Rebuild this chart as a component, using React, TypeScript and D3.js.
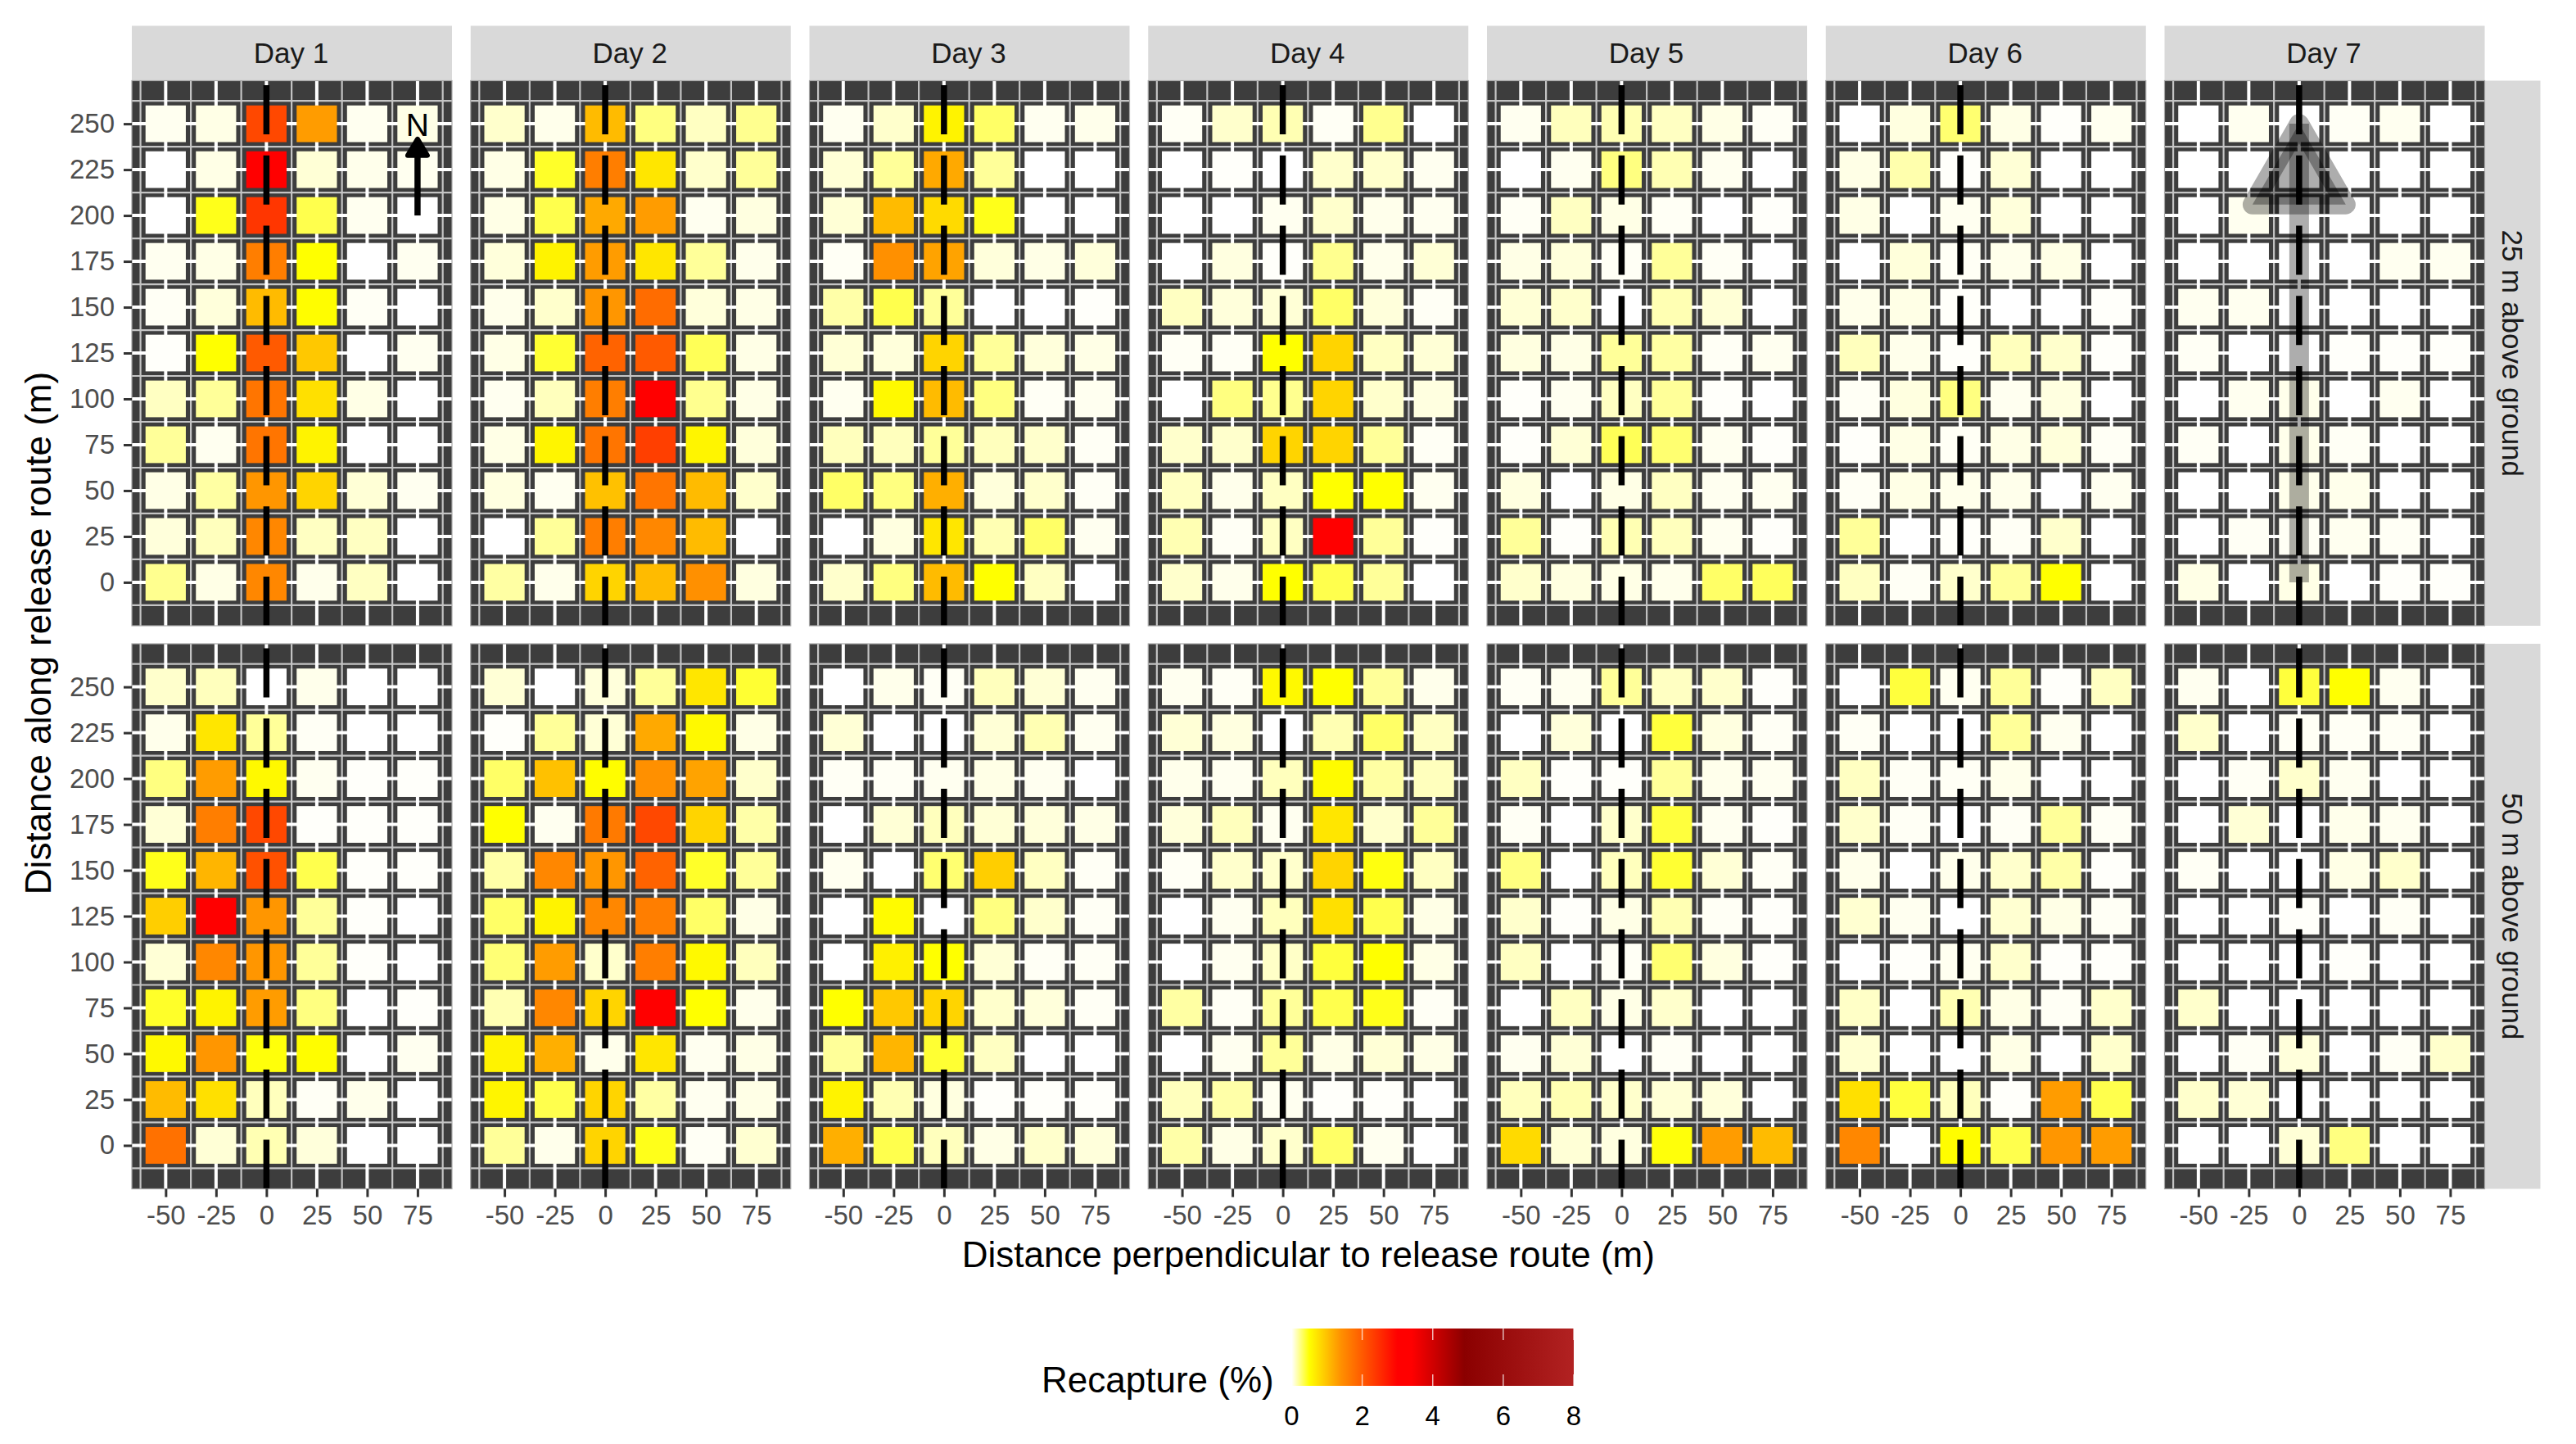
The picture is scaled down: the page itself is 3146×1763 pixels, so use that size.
import React, { useEffect, useRef } from 'react';
import * as d3 from 'd3';

const WIDTH = 3146;
const HEIGHT = 1763;

const DAYS = ['Day 1', 'Day 2', 'Day 3', 'Day 4', 'Day 5', 'Day 6', 'Day 7'];
const ALTITUDES = ['25 m above ground', '50 m above ground'];
const PERP = [-50, -25, 0, 25, 50, 75];
const ALONG = [250, 225, 200, 175, 150, 125, 100, 75, 50, 25, 0];
const LEGEND_TICKS = [0, 2, 4, 6, 8];

// recapture %, one row per ALONG value, one column per PERP value
const day1Low = [
    [.03, .05, 2.2, 1.3, .03, .05],
    [0, .05, 3, .08, .04, .03],
    [0, .45, 2.4, .35, .03, 0],
    [.03, .05, 1.6, .5, 0, .03],
    [.02, .07, 1.05, .52, .02, 0],
    [.01, .5, 2.0, .95, 0, .03],
    [.12, .2, 1.7, .75, .05, 0],
    [.2, .03, 1.7, .6, 0, 0],
    [.05, .18, 1.35, .85, .08, .03],
    [.07, .13, 1.5, .12, .12, 0],
    [.22, .05, 1.5, .04, .12, 0],
];
const day2Low = [
    [.1, .04, 1.05, .25, .12, .22],
    [.05, .42, 1.6, .7, .1, .2],
    [.05, .35, 1.2, 1.3, .03, .06],
    [.07, .6, 1.3, .7, .2, .04],
    [.04, .1, 1.35, 1.8, .07, .05],
    [.05, .4, 1.9, 2.0, .33, .05],
    [.03, .13, 1.6, 3, .22, .05],
    [.05, .58, 1.7, 2.3, .58, .07],
    [.06, .03, 1.0, 1.7, 1.05, .1],
    [0, .2, 1.6, 1.5, 1.05, 0],
    [.18, .04, .85, 1.05, 1.4, .06],
];
const day3Low = [
    [.03, .1, .6, .3, .03, .04],
    [.08, .2, 1.2, .2, 0, 0],
    [.08, 1.05, .8, .45, 0, 0],
    [.02, 1.4, 1.25, .07, .05, .07],
    [.17, .35, .2, 0, 0, .01],
    [.08, .07, .85, .2, .07, .05],
    [.03, .55, 1.05, .25, .02, .03],
    [.13, .13, .2, .13, .1, .02],
    [.3, .25, 1.15, .07, .1, .02],
    [0, .06, .7, .15, .3, .03],
    [.1, .25, 1.05, .5, .12, 0],
];
const day4Low = [
    [.02, .1, .15, .02, .22, 0],
    [0, .01, 0, .1, .1, .03],
    [0, 0, .03, .1, .04, .03],
    [0, .06, .01, .22, .04, .08],
    [.12, .07, .08, .3, .07, .02],
    [.02, .02, .5, .85, .12, .08],
    [0, .25, .22, .85, .1, .06],
    [.1, .1, .85, .85, .2, .02],
    [.12, .04, .12, .5, .5, .03],
    [.15, .02, .12, 3, .2, .01],
    [.1, .04, .5, .35, .2, 0],
];
const day5Low = [
    [.03, .13, .15, .12, .05, .02],
    [0, .03, .25, .15, .03, 0],
    [.02, .12, .05, .02, 0, .01],
    [.05, .07, .02, .2, .02, 0],
    [.08, .1, 0, .15, .08, 0],
    [.06, .05, .2, .18, .02, .03],
    [.01, .03, .12, .2, .01, 0],
    [.01, .08, .33, .28, .03, .01],
    [.06, 0, .05, .12, .03, .03],
    [.2, .01, .15, .13, .03, .01],
    [.1, .06, .05, .04, .3, .32],
];
const day6Low = [
    [0, .06, .28, .05, .01, .03],
    [.05, .16, .01, .08, 0, 0],
    [.05, 0, .03, .07, 0, 0],
    [0, .07, .02, .04, .05, 0],
    [.04, .05, .01, 0, 0, .01],
    [.13, .04, .01, .13, .1, .01],
    [.02, .06, .25, .03, .06, 0],
    [.01, .05, .02, .05, .07, .02],
    [.02, .05, .04, .04, 0, .03],
    [.2, 0, .01, .02, .1, 0],
    [.12, .02, .1, .2, .5, 0],
];
const day7Low = [
    [0, .03, 0, .02, .03, 0],
    [0, 0, 0, 0, 0, 0],
    [0, .03, 0, 0, 0, 0],
    [0, 0, 0, 0, .03, .03],
    [.03, .03, 0, 0, 0, 0],
    [.02, 0, 0, .01, .01, .01],
    [0, .03, .04, 0, .03, 0],
    [.02, 0, .04, .02, 0, 0],
    [0, 0, .04, .04, 0, 0],
    [0, .02, .02, .03, .02, 0],
    [.05, 0, .05, 0, .01, .01],
];
const day1High = [
    [.1, .13, 0, .04, 0, 0],
    [.04, .7, .2, .02, 0, 0],
    [.25, 1.3, .55, .03, .01, .01],
    [.08, 1.6, 2.2, .01, .01, .01],
    [.45, 1.1, 2.1, .35, .01, .01],
    [.9, 3, 1.35, .2, .01, 0],
    [.08, 1.5, 1.35, .2, .01, 0],
    [.42, .6, 1.3, .25, 0, .01],
    [.55, 1.35, .48, .52, 0, .03],
    [1.05, .75, .13, .02, .04, 0],
    [1.75, .08, .15, .07, 0, 0],
];
const day2High = [
    [.08, 0, .07, .2, .7, .4],
    [.01, .2, .08, 1.2, .55, .05],
    [.3, 1.0, .52, 1.4, 1.25, .1],
    [.5, .03, 1.65, 2.2, .85, .17],
    [.17, 1.5, 1.35, 1.9, .42, .2],
    [.3, .6, 1.5, 1.6, .3, .05],
    [.27, 1.3, .1, 1.6, .55, .13],
    [.15, 1.5, .85, 3, .5, .04],
    [.6, 1.15, .04, .7, .03, .05],
    [.58, .35, .85, .18, .03, .05],
    [.2, .04, .85, .45, .02, .09],
];
const day3High = [
    [0, .04, .02, .13, .08, .03],
    [.08, 0, 0, .08, .15, .03],
    [.02, .02, .03, .05, .03, 0],
    [0, .08, .13, .08, .07, .05],
    [.03, 0, .28, .9, .12, .02],
    [0, .53, 0, .25, .1, .02],
    [0, .62, .5, .08, .02, .02],
    [.5, .95, .85, .1, .07, .02],
    [.2, 1.1, .4, .12, 0, 0],
    [.6, .15, .06, .01, .01, .01],
    [1.15, .35, .13, .05, .1, .07],
];
const day4High = [
    [.03, .02, .55, .5, .2, .04],
    [.08, .06, 0, .15, .3, .12],
    [.04, .03, .13, .53, .18, .13],
    [.07, .13, .03, .7, .1, .2],
    [.02, .1, .1, .85, .47, .12],
    [0, .03, .13, .75, .35, .05],
    [0, .03, .11, .38, .5, .05],
    [.18, .02, .2, .35, .45, .02],
    [0, .03, .2, .05, .08, .05],
    [.13, .17, .03, .01, .01, 0],
    [.17, .05, .1, .3, .03, 0],
];
const day5High = [
    [.02, .03, .2, .12, .1, .01],
    [0, .07, 0, .38, .06, .02],
    [.12, .01, .01, .2, .04, .03],
    [.02, 0, .1, .38, .03, .01],
    [.25, 0, .13, .4, .08, .02],
    [.1, .01, .05, .15, .02, .01],
    [.12, 0, .02, .28, .06, .01],
    [0, .12, .05, .1, 0, 0],
    [.03, .08, 0, .02, 0, 0],
    [.13, .15, .1, .08, .07, 0],
    [.8, .08, .06, .48, 1.3, 1.05],
];
const day6High = [
    [0, .38, .03, .2, .01, .12],
    [.02, 0, 0, .2, .03, 0],
    [.12, .02, .02, .04, 0, 0],
    [.1, .02, 0, .02, .2, .02],
    [.04, 0, .04, .1, .17, .01],
    [.09, .03, 0, .09, .05, .02],
    [0, .01, .03, .1, .01, .01],
    [.11, 0, .15, .05, .02, .1],
    [.09, 0, 0, .05, 0, .1],
    [.75, .38, .13, .01, 1.3, .35],
    [1.5, 0, .52, .35, 1.35, 1.3],
];
const day7High = [
    [.03, 0, .38, .5, .03, 0],
    [.1, 0, .02, .02, .02, 0],
    [0, .02, .1, .03, 0, 0],
    [0, .08, 0, .04, .03, 0],
    [.02, 0, 0, .05, .1, 0],
    [0, 0, .01, 0, .02, 0],
    [0, 0, 0, .01, 0, 0],
    [.1, 0, 0, 0, 0, 0],
    [0, .02, .07, 0, .02, .1],
    [.1, .08, 0, 0, 0, 0],
    [0, 0, .08, .25, 0, 0],
];

const GRIDS = [
    [day1Low, day2Low, day3Low, day4Low, day5Low, day6Low, day7Low],
    [day1High, day2High, day3High, day4High, day5High, day6High, day7High],
];

const COLOR_STOPS = [0, 0.5, 1.4, 3, 3.4, 4.9, 8];
const COLORS = ['#ffffff', '#ffff00', '#ff9000', '#ff0000', '#ff0000', '#8b0000', '#b22222'];

const PANEL_X = 161;
const PANEL_W = 391;
const PANEL_PITCH = 413.75;
const PANEL_H = 665.5;
const ROW_TOPS = [98.5, 786];
const STRIP_TOP = 31.5;
const RSTRIP_W = 68;
const FONT = '"Liberation Sans", Arial, sans-serif';

const App: React.FC = () => {
    const svgRef = useRef<SVGSVGElement>(null);

    useEffect(() => {
        if (!svgRef.current) return;
        const svg = d3.select(svgRef.current);
        svg.selectAll('*').remove();

        const x = d3.scaleLinear().domain([-66.8, 92.1]).range([0, PANEL_W]);
        const y = d3.scaleLinear().domain([-23.7, 273.5]).range([PANEL_H, 0]);
        const color = d3.scaleLinear<string>().domain(COLOR_STOPS).range(COLORS).interpolate(d3.interpolateRgb);
        const minorX = PERP.map(d => d - 12.5).concat(87.5);
        const minorY = ALONG.map(d => d - 12.5).concat(262.5);
        const tileW = x(20) - x(0);
        const tileH = y(0) - y(20);

        svg.append('rect').attr('width', WIDTH).attr('height', HEIGHT).attr('fill', '#fff');

        // strips
        DAYS.forEach((day, i) => {
            const px = PANEL_X + i * PANEL_PITCH;
            svg.append('rect')
                .attr('x', px).attr('y', STRIP_TOP)
                .attr('width', PANEL_W).attr('height', ROW_TOPS[0] - STRIP_TOP)
                .attr('fill', '#d9d9d9');
            svg.append('text')
                .attr('x', px + PANEL_W / 2 - 1).attr('y', 76.5)
                .attr('text-anchor', 'middle')
                .attr('font-size', 35).attr('fill', '#1a1a1a').attr('font-family', FONT)
                .text(day);
        });
        const rightX = PANEL_X + 6 * PANEL_PITCH + PANEL_W;
        ALTITUDES.forEach((label, r) => {
            svg.append('rect')
                .attr('x', rightX).attr('y', ROW_TOPS[r])
                .attr('width', RSTRIP_W).attr('height', PANEL_H)
                .attr('fill', '#d9d9d9');
            svg.append('text')
                .attr('transform', `translate(${rightX + 21},${ROW_TOPS[r] + PANEL_H / 2}) rotate(90)`)
                .attr('text-anchor', 'middle')
                .attr('font-size', 35).attr('fill', '#1a1a1a').attr('font-family', FONT)
                .text(label);
        });

        GRIDS.forEach((row, r) => {
            row.forEach((grid, c) => {
                const panel = svg.append('g')
                    .attr('transform', `translate(${PANEL_X + c * PANEL_PITCH},${ROW_TOPS[r]})`);

                panel.append('rect').attr('width', PANEL_W).attr('height', PANEL_H).attr('fill', '#3d3d3d');

                panel.selectAll('.minor-x').data(minorX).join('line')
                    .attr('x1', d => x(d)).attr('x2', d => x(d))
                    .attr('y1', 0).attr('y2', PANEL_H)
                    .attr('stroke', '#c4c4c4').attr('stroke-width', 2.2);
                panel.selectAll('.minor-y').data(minorY).join('line')
                    .attr('y1', d => y(d)).attr('y2', d => y(d))
                    .attr('x1', 0).attr('x2', PANEL_W)
                    .attr('stroke', '#c4c4c4').attr('stroke-width', 2.2);
                panel.selectAll('.major-x').data(PERP).join('line')
                    .attr('x1', d => x(d)).attr('x2', d => x(d))
                    .attr('y1', 0).attr('y2', PANEL_H)
                    .attr('stroke', '#fff').attr('stroke-width', 4);
                panel.selectAll('.major-y').data(ALONG).join('line')
                    .attr('y1', d => y(d)).attr('y2', d => y(d))
                    .attr('x1', 0).attr('x2', PANEL_W)
                    .attr('stroke', '#fff').attr('stroke-width', 4);

                grid.forEach((vals, ri) => {
                    vals.forEach((v, ci) => {
                        panel.append('rect')
                            .attr('x', x(PERP[ci]) - tileW / 2)
                            .attr('y', y(ALONG[ri]) - tileH / 2)
                            .attr('width', tileW).attr('height', tileH)
                            .attr('fill', color(v));
                    });
                });

                // release route
                panel.append('line')
                    .attr('x1', x(0)).attr('x2', x(0))
                    .attr('y1', PANEL_H).attr('y2', 0)
                    .attr('stroke', '#000').attr('stroke-width', 7.5)
                    .attr('stroke-dasharray', '60 25.7');

                panel.append('rect')
                    .attr('width', PANEL_W).attr('height', PANEL_H)
                    .attr('fill', 'none').attr('stroke', '#a8a8a8').attr('stroke-width', 1.2);

                if (c === 0) {
                    const axis = panel.append('g').call(d3.axisLeft(y).tickValues(ALONG).tickSize(10).tickPadding(11));
                    axis.select('.domain').remove();
                    axis.selectAll('line').attr('stroke', '#333').attr('stroke-width', 3);
                    axis.selectAll('text').attr('fill', '#4d4d4d').attr('font-size', 33).attr('font-family', FONT);
                }
                if (r === 1) {
                    const axis = panel.append('g')
                        .attr('transform', `translate(0,${PANEL_H})`)
                        .call(d3.axisBottom(x).tickValues(PERP).tickFormat(d => String(d)).tickSize(10).tickPadding(10));
                    axis.select('.domain').remove();
                    axis.selectAll('line').attr('stroke', '#333').attr('stroke-width', 3);
                    axis.selectAll('text').attr('fill', '#4d4d4d').attr('font-size', 33).attr('font-family', FONT);
                }

                // north arrow on day 1
                if (r === 0 && c === 0) {
                    const tip = y(243);
                    panel.append('line')
                        .attr('x1', x(75)).attr('x2', x(75))
                        .attr('y1', y(200)).attr('y2', tip + 20)
                        .attr('stroke', '#000').attr('stroke-width', 7.5);
                    panel.append('path')
                        .attr('d', d3.line()([[x(75), tip + 3], [x(75) + 12, tip + 23], [x(75) - 12, tip + 23]]) + 'Z')
                        .attr('fill', '#000').attr('stroke', '#000').attr('stroke-width', 6).attr('stroke-linejoin', 'round');
                    panel.append('text')
                        .attr('x', x(75)).attr('y', y(250) + 14.5)
                        .attr('text-anchor', 'middle')
                        .attr('font-size', 39).attr('fill', '#000').attr('font-family', FONT)
                        .text('N');
                }

                // faded release-route arrow on day 7
                if (r === 0 && c === 6) {
                    const headBase = y(206);
                    panel.append('line')
                        .attr('x1', x(0)).attr('x2', x(0))
                        .attr('y1', y(0)).attr('y2', y(250))
                        .attr('stroke', '#000').attr('stroke-opacity', 0.32).attr('stroke-width', 24);
                    panel.append('path')
                        .attr('d', d3.line()([[x(0), y(250)], [x(0) + 57, headBase], [x(0) - 57, headBase]]) + 'Z')
                        .attr('fill', '#000').attr('fill-opacity', 0.32)
                        .attr('stroke', '#000').attr('stroke-opacity', 0.32).attr('stroke-width', 24)
                        .attr('stroke-linejoin', 'round');
                }
            });
        });

        // axis titles
        const gridRight = PANEL_X + 6 * PANEL_PITCH + PANEL_W;
        svg.append('text')
            .attr('x', (PANEL_X + gridRight) / 2).attr('y', 1546.5)
            .attr('text-anchor', 'middle')
            .attr('font-size', 44).attr('fill', '#000').attr('font-family', FONT)
            .text('Distance perpendicular to release route (m)');
        svg.append('text')
            .attr('transform', `translate(62,773) rotate(-90)`)
            .attr('text-anchor', 'middle')
            .attr('font-size', 44).attr('fill', '#000').attr('font-family', FONT)
            .text('Distance along release route (m)');

        // colour bar
        const legendX = d3.scaleLinear().domain([0, 8]).range([1577.5, 1922]);
        const barY = 1622;
        const barH = 70;
        const defs = svg.append('defs');
        const grad = defs.append('linearGradient').attr('id', 'recapture-bar');
        COLOR_STOPS.forEach((s, i) => {
            grad.append('stop').attr('offset', s / 8).attr('stop-color', COLORS[i]);
        });
        svg.append('rect')
            .attr('x', legendX(0)).attr('y', barY)
            .attr('width', legendX(8) - legendX(0)).attr('height', barH)
            .attr('fill', 'url(#recapture-bar)');
        svg.selectAll('.legend-tick-top').data(LEGEND_TICKS.slice(1)).join('line')
            .attr('x1', d => legendX(d)).attr('x2', d => legendX(d))
            .attr('y1', barY).attr('y2', barY + 14)
            .attr('stroke', '#fff').attr('stroke-opacity', 0.7).attr('stroke-width', 1.5);
        svg.selectAll('.legend-tick-bottom').data(LEGEND_TICKS.slice(1)).join('line')
            .attr('x1', d => legendX(d)).attr('x2', d => legendX(d))
            .attr('y1', barY + barH - 14).attr('y2', barY + barH)
            .attr('stroke', '#fff').attr('stroke-opacity', 0.7).attr('stroke-width', 1.5);
        svg.selectAll('.legend-label').data(LEGEND_TICKS).join('text')
            .attr('x', d => legendX(d)).attr('y', 1739.5)
            .attr('text-anchor', 'middle')
            .attr('font-size', 33).attr('fill', '#000').attr('font-family', FONT)
            .text(d => d);
        svg.append('text')
            .attr('x', 1272).attr('y', 1700)
            .attr('font-size', 44).attr('fill', '#000').attr('font-family', FONT)
            .text('Recapture (%)');
    }, []);

    return (
        <svg
            ref={svgRef}
            width={WIDTH}
            height={HEIGHT}
            viewBox={`0 0 ${WIDTH} ${HEIGHT}`}
            style={{ position: 'absolute', left: 0, top: 0, display: 'block' }}
        />
    );
};

export default App;
